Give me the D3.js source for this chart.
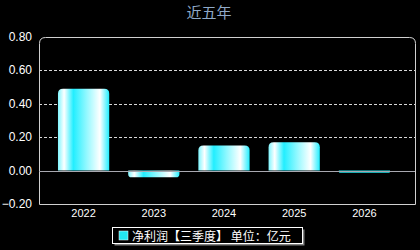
<!DOCTYPE html>
<html>
<head>
<meta charset="utf-8">
<script src="https://cdn.jsdelivr.net/npm/d3@7"></script>
<style>
  body { margin: 0; background: #000; }
  svg { display: block; font-family: "Liberation Sans", Arial, sans-serif; }
</style>
</head>
<body>
<svg id="chart" width="420" height="250"></svg>
<script>
// chart data
const years = ["2022", "2023", "2024", "2025", "2026"];
const profit = [0.49, -0.04, 0.15, 0.17, -0.013];
const yTicks = [-0.2, 0, 0.2, 0.4, 0.6, 0.8];
const title = "近五年";
const legendText = "净利润【三季度】 单位：亿元";

const width = 420;
const height = 250;
const plot = { left: 39, right: 415, top: 37, bottom: 204 };

const svg = d3.select("#chart");

// gradient for the bars
const defs = svg.append("defs");
const grad = defs.append("linearGradient")
  .attr("id", "barGrad")
  .attr("x1", "0%").attr("x2", "100%")
  .attr("y1", "0%").attr("y2", "0%");
[[0, "#7ff6ff"], [0.12, "#ffffff"], [0.3, "#22eeff"], [0.55, "#8ff8ff"], [0.82, "#ffffff"], [1, "#22eeff"]]
  .forEach(s => grad.append("stop").attr("offset", s[0]).attr("stop-color", s[1]));

const xScale = d3.scaleBand()
  .domain(years)
  .range([48.5, 399.5])
  .paddingInner(0.27)
  .paddingOuter(0.135);

const yScale = d3.scaleLinear()
  .domain([-0.2, 0.8])
  .range([plot.bottom, plot.top]);

// Title
svg.append("text")
  .attr("x", 209)
  .attr("y", 18)
  .attr("text-anchor", "middle")
  .style("font-family", "'Noto Sans CJK SC', sans-serif")
  .style("font-size", "15px")
  .style("fill", "#8fa9c8")
  .text(title);

// grid lines
svg.append("g")
  .selectAll("line")
  .data([0.2, 0.4, 0.6])
  .enter()
  .append("line")
  .attr("x1", plot.left)
  .attr("x2", plot.right)
  .attr("y1", d => Math.round(yScale(d)) + 0.5)
  .attr("y2", d => Math.round(yScale(d)) + 0.5)
  .style("stroke", "#d8d8d8")
  .style("stroke-dasharray", "3,2");

// plot frame with rounded top corners
const r = 6;
const L = plot.left + 0.5, R = plot.right + 0.5, T = plot.top + 0.5, B = plot.bottom + 0.5;
svg.append("path")
  .attr("d", `M${L},${B} L${L},${T + r} Q${L},${T} ${L + r},${T} L${R - r},${T} Q${R},${T} ${R},${T + r} L${R},${B} Z`)
  .style("fill", "none")
  .style("stroke", "#d0d0d0");

// Y axis labels
svg.append("g")
  .selectAll("text")
  .data(yTicks)
  .enter()
  .append("text")
  .attr("x", 32)
  .attr("y", d => yScale(d) + 4)
  .attr("text-anchor", "end")
  .style("font-size", "12px")
  .style("fill", "#ffffff")
  .text(d => d3.format(".2f")(d));

// X axis labels
svg.append("g")
  .selectAll("text")
  .data(years)
  .enter()
  .append("text")
  .attr("x", d => xScale(d) + xScale.bandwidth() / 2)
  .attr("y", 217)
  .attr("text-anchor", "middle")
  .style("font-size", "11px")
  .style("fill", "#ffffff")
  .text(d => d);

// bars with rounded outer end
const y0 = yScale(0);
function barPath(d, i) {
  const x0 = xScale(years[i]);
  const x1 = x0 + xScale.bandwidth();
  const yv = yScale(d);
  const h = Math.abs(yv - y0);
  const rr = Math.min(5, h / 2);
  if (d >= 0) {
    return `M${x0},${y0} L${x0},${yv + rr} Q${x0},${yv} ${x0 + rr},${yv} L${x1 - rr},${yv} Q${x1},${yv} ${x1},${yv + rr} L${x1},${y0} Z`;
  }
  return `M${x0},${y0} L${x0},${yv - rr} Q${x0},${yv} ${x0 + rr},${yv} L${x1 - rr},${yv} Q${x1},${yv} ${x1},${yv - rr} L${x1},${y0} Z`;
}

svg.append("g")
  .selectAll("path")
  .data(profit)
  .enter()
  .append("path")
  .attr("d", (d, i) => barPath(d, i))
  .style("fill", d => Math.abs(yScale(d) - y0) < 4 ? "#22e6f0" : "url(#barGrad)");

// zero line
svg.append("line")
  .attr("x1", plot.left)
  .attr("x2", plot.right)
  .attr("y1", Math.round(y0) + 0.5)
  .attr("y2", Math.round(y0) + 0.5)
  .style("stroke", "#a8a8b0");

// legend
const lg = svg.append("g");
lg.append("rect")
  .attr("x", 114.5).attr("y", 229.5)
  .attr("width", 190).attr("height", 16)
  .style("fill", "#808080");
lg.append("rect")
  .attr("x", 112.5).attr("y", 227.5)
  .attr("width", 190).attr("height", 16)
  .style("fill", "#000")
  .style("stroke", "#ffffff");
lg.append("rect")
  .attr("x", 119).attr("y", 231)
  .attr("width", 9).attr("height", 9)
  .style("fill", "#22e6f0")
  .style("stroke", "#ffffff")
  .style("stroke-width", 0.5);
lg.append("text")
  .attr("x", 132)
  .attr("y", 240.5)
  .style("font-family", "'Noto Sans CJK SC', sans-serif")
  .style("font-size", "12px")
  .style("fill", "#ffffff")
  .text(legendText);
</script>
</body>
</html>
